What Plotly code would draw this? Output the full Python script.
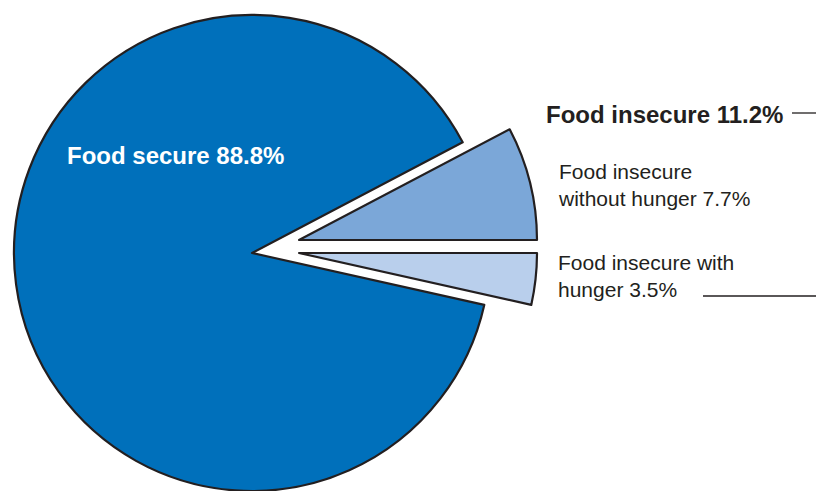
import plotly.graph_objects as go

W, H = 816, 491

# Data
categories = ["Food insecure without hunger", "Food secure", "Food insecure with hunger"]
values = [7.7, 88.8, 3.5]
insecure_total = 11.2
colors = ["#7BA7D8", "#0070BB", "#B9CFEC"]
outline = "#231F20"
clear = "rgba(0,0,0,0)"

R = 238  # pie radius, px

# first slice begins at 3 o'clock and runs counter-clockwise
rotation = 90 - 360 * values[0] / sum(values)


def dom(cx, cy):
    return dict(x=[max(0, (cx - R) / W), min(1, (cx + R) / W)],
                y=[max(0, (H - cy - R) / H), min(1, (H - cy + R) / H)])


def pie(visible_idx, cx, cy):
    fills = [colors[i] if i == visible_idx else clear for i in range(len(values))]
    lines = [outline if i == visible_idx else clear for i in range(len(values))]
    return go.Pie(
        labels=categories, values=values, sort=False, direction="counterclockwise",
        rotation=rotation, domain=dom(cx, cy),
        marker=dict(colors=fills, line=dict(color=lines, width=2.2)),
        textinfo="none", hoverinfo="skip", showlegend=False,
    )


fig = go.Figure()
fig.add_trace(pie(1, 252, 253))   # food secure (main body)
fig.add_trace(pie(0, 299, 240))   # without hunger (exploded)
fig.add_trace(pie(2, 299, 253))   # with hunger (exploded)

font = "Liberation Sans, Arial, Helvetica, sans-serif"


def px_x(x):
    return x / W


def px_y(y):
    return 1 - y / H


anns = [
    dict(text=f"<b>{categories[1]} {values[1]}%</b>", x=px_x(65), y=px_y(155),
         font=dict(size=24, color="white")),
    dict(text=f"<b>Food insecure {insecure_total}%</b>", x=px_x(544), y=px_y(114),
         font=dict(size=24, color="#231F20")),
    dict(text=f"Food insecure<br>without hunger {values[0]}%", x=px_x(556), y=px_y(185),
         font=dict(size=21, color="#231F20")),
    dict(text=f"Food insecure with<br>hunger {values[2]}%", x=px_x(556), y=px_y(276),
         font=dict(size=21, color="#231F20")),
]
for a in anns:
    fig.add_annotation(xref="paper", yref="paper", xanchor="left", yanchor="middle",
                       align="left", showarrow=False, font_family=font, **a)

fig.add_shape(type="line", xref="paper", yref="paper",
              x0=px_x(792), x1=px_x(816), y0=px_y(113), y1=px_y(113),
              line=dict(color=outline, width=1.3))
fig.add_shape(type="line", xref="paper", yref="paper",
              x0=px_x(703), x1=px_x(816), y0=px_y(296), y1=px_y(296),
              line=dict(color=outline, width=1.3))

fig.update_layout(width=W, height=H, margin=dict(l=0, r=0, t=0, b=0),
                  paper_bgcolor="white", plot_bgcolor="white", font=dict(family=font))

fig.write_html("out.html", config={"displayModeBar": False},
               post_script="document.body.style.margin='0';document.body.style.overflow='hidden';")
